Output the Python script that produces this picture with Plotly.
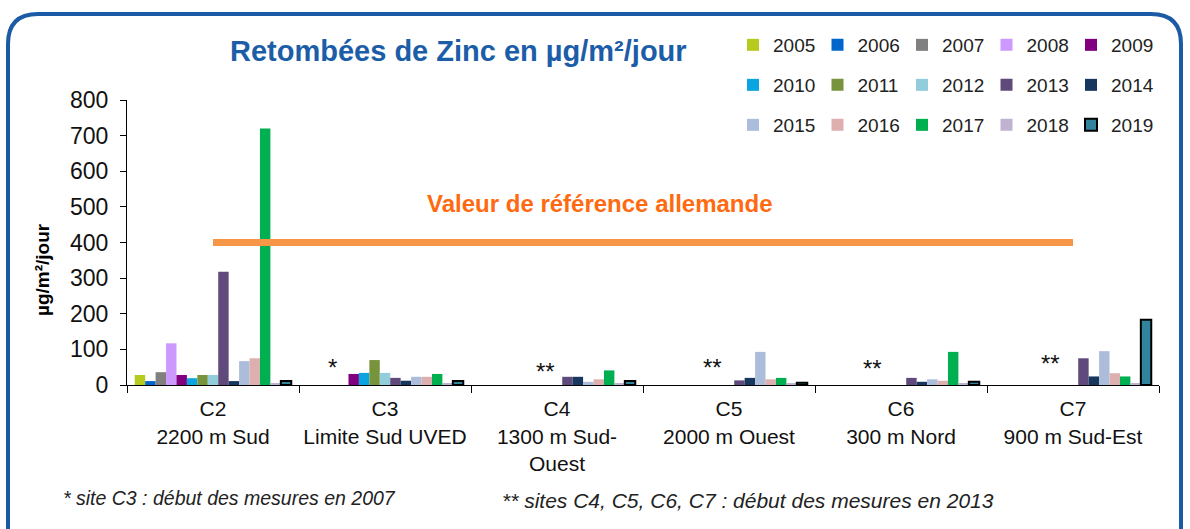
import plotly.graph_objects as go

# ---------------- data ----------------
years = ["2005", "2006", "2007", "2008", "2009", "2010", "2011", "2012",
         "2013", "2014", "2015", "2016", "2017", "2018", "2019"]
sites = ["C2<br>2200 m Sud", "C3<br>Limite Sud UVED", "C4<br>1300 m Sud-<br>Ouest",
         "C5<br>2000 m Ouest", "C6<br>300 m Nord", "C7<br>900 m Sud-Est"]

c2 = [28, 11, 36, 117, 28, 19, 28, 28, 318, 11, 67, 75, 720, 3, 11]
c3 = [None, None, None, None, 31, 34, 70, 34, 20, 12, 23, 23, 31, 4, 11]
c4 = [None] * 8 + [23, 23, 9, 16, 41, 4, 11]
c5 = [None] * 8 + [13, 20, 93, 16, 20, 3, 6]
c6 = [None] * 8 + [20, 9, 16, 12, 93, 5, 9]
c7 = [None] * 8 + [75, 24, 95, 33, 24, 5, 183]
site_values = [c2, c3, c4, c5, c6, c7]

reference_value = 400

colors = ["#B7CA1E", "#0066CC", "#808080", "#CC99FF", "#800080",
          "#0AA5E0", "#77933C", "#92CDDC", "#604A7B", "#17375E",
          "#ACBDDB", "#DDAFAF", "#00B050", "#C0B3D1", "#31849B"]

# ---------------- geometry helpers ----------------
W, H = 1190, 529
L, R, T, B = 127, 1159, 100, 385


def px2x(px):
    return (px - L) / (R - L)


def py2y(py):
    return (B - py) / (B - T)


FONT = "Liberation Sans, Arial, sans-serif"

fig = go.Figure()

legend_layout = {}
for i, yr in enumerate(years):
    vals = [sv[i] for sv in site_values]
    last = (yr == "2019")
    lid = "legend" if i == 0 else f"legend{i + 1}"
    row, col = divmod(i, 5)
    legend_layout[lid] = dict(
        x=px2x(733 + col * 84.5), y=py2y(45 + row * 40),
        xanchor="left", yanchor="middle", orientation="h",
        font=dict(size=19, color="#222", family=FONT),
        itemwidth=30, bgcolor="rgba(0,0,0,0)")
    fig.add_trace(go.Bar(
        x=sites, y=vals, name=yr,
        marker=dict(color=colors[i],
                    line=dict(color="black" if last else "white",
                              width=2 if last else 0)),
        legend=lid,
        hoverinfo="skip",
    ))

# reference line
fig.add_shape(type="line", xref="x", yref="y", x0=0, x1=5,
              y0=reference_value, y1=reference_value,
              line=dict(color="#F79646", width=7))

# rounded border
r = 30
x0, x1 = px2x(8), px2x(1181)
y0, y1 = py2y(14), py2y(560)
rx = r / (R - L)
ry = r / (B - T)
path = (f"M{x0 + rx},{y0} L{x1 - rx},{y0} Q{x1},{y0} {x1},{y0 - ry} "
        f"L{x1},{y1 + ry} Q{x1},{y1} {x1 - rx},{y1} L{x0 + rx},{y1} "
        f"Q{x0},{y1} {x0},{y1 + ry} L{x0},{y0 - ry} Q{x0},{y0} {x0 + rx},{y0} Z")
fig.add_shape(type="path", xref="paper", yref="paper", path=path,
              line=dict(color="#1B5BA5", width=4), layer="below")

annotations = []
# title
annotations.append(dict(text="<b>Retombées de Zinc en µg/m²/jour</b>",
                        xref="paper", yref="paper", x=px2x(458), y=py2y(51),
                        xanchor="center", yanchor="middle", showarrow=False,
                        font=dict(size=29, color="#1C5DA8", family=FONT)))
# y axis title
annotations.append(dict(text="<b>µg/m²/jour</b>", textangle=-90,
                        xref="paper", yref="paper", x=px2x(42), y=py2y(270),
                        xanchor="center", yanchor="middle", showarrow=False,
                        font=dict(size=19, color="black", family=FONT)))
# reference label
annotations.append(dict(text="<b>Valeur de référence allemande</b>",
                        xref="paper", yref="paper", x=px2x(600), y=py2y(203),
                        xanchor="center", yanchor="middle", showarrow=False,
                        font=dict(size=24, color="#FF6A10", family=FONT)))
# asterisks
for idx, yv, txt, xs in [(1, 67, "*", -53), (2, 56, "**", -12), (3, 65, "**", -17),
                          (4, 62, "**", -29), (5, 76, "**", -23)]:
    annotations.append(dict(text=txt, xref="x", yref="y", x=idx, y=yv,
                            xshift=xs, yshift=-6, showarrow=False,
                            xanchor="center", yanchor="middle",
                            font=dict(size=24, color="#111", family=FONT)))
# footnotes
annotations.append(dict(text="<i>* site C3 : début des mesures en 2007</i>",
                        xref="paper", yref="paper", x=px2x(61), y=py2y(498),
                        xanchor="left", yanchor="middle", showarrow=False,
                        font=dict(size=19.5, color="#222", family=FONT)))
annotations.append(dict(text="<i>** sites C4, C5, C6, C7 : début des mesures en 2013</i>",
                        xref="paper", yref="paper", x=px2x(500), y=py2y(500),
                        xanchor="left", yanchor="middle", showarrow=False,
                        font=dict(size=21, color="#222", family=FONT)))

fig.update_layout(
    width=W, height=H,
    margin=dict(l=L, r=W - R, t=T, b=H - B, pad=0, autoexpand=False),
    paper_bgcolor="white", plot_bgcolor="white",
    barmode="group", bargap=0.09, bargroupgap=0,
    font=dict(family=FONT, color="#111"),
    showlegend=True,
    annotations=annotations,
    xaxis=dict(showline=True, linecolor="black", linewidth=1,
               ticks="outside", ticklen=7, tickcolor="black",
               tickson="boundaries", showgrid=False, zeroline=False,
               tickangle=0, automargin=False, ticklabelstandoff=5,
               tickfont=dict(size=21, color="#111", family=FONT),
               range=[-0.5, 5.5]),
    yaxis=dict(range=[0, 800], dtick=100, showline=True, linecolor="black",
               linewidth=1, ticks="outside", ticklen=6, tickcolor="black",
               showgrid=False, zeroline=False, ticklabelstandoff=7,
               automargin=False,
               tickfont=dict(size=23, color="#111", family=FONT)),
    **legend_layout,
)

fig.write_html("out.html", config={"displayModeBar": False},
               post_script="document.body.style.margin='0px';")
